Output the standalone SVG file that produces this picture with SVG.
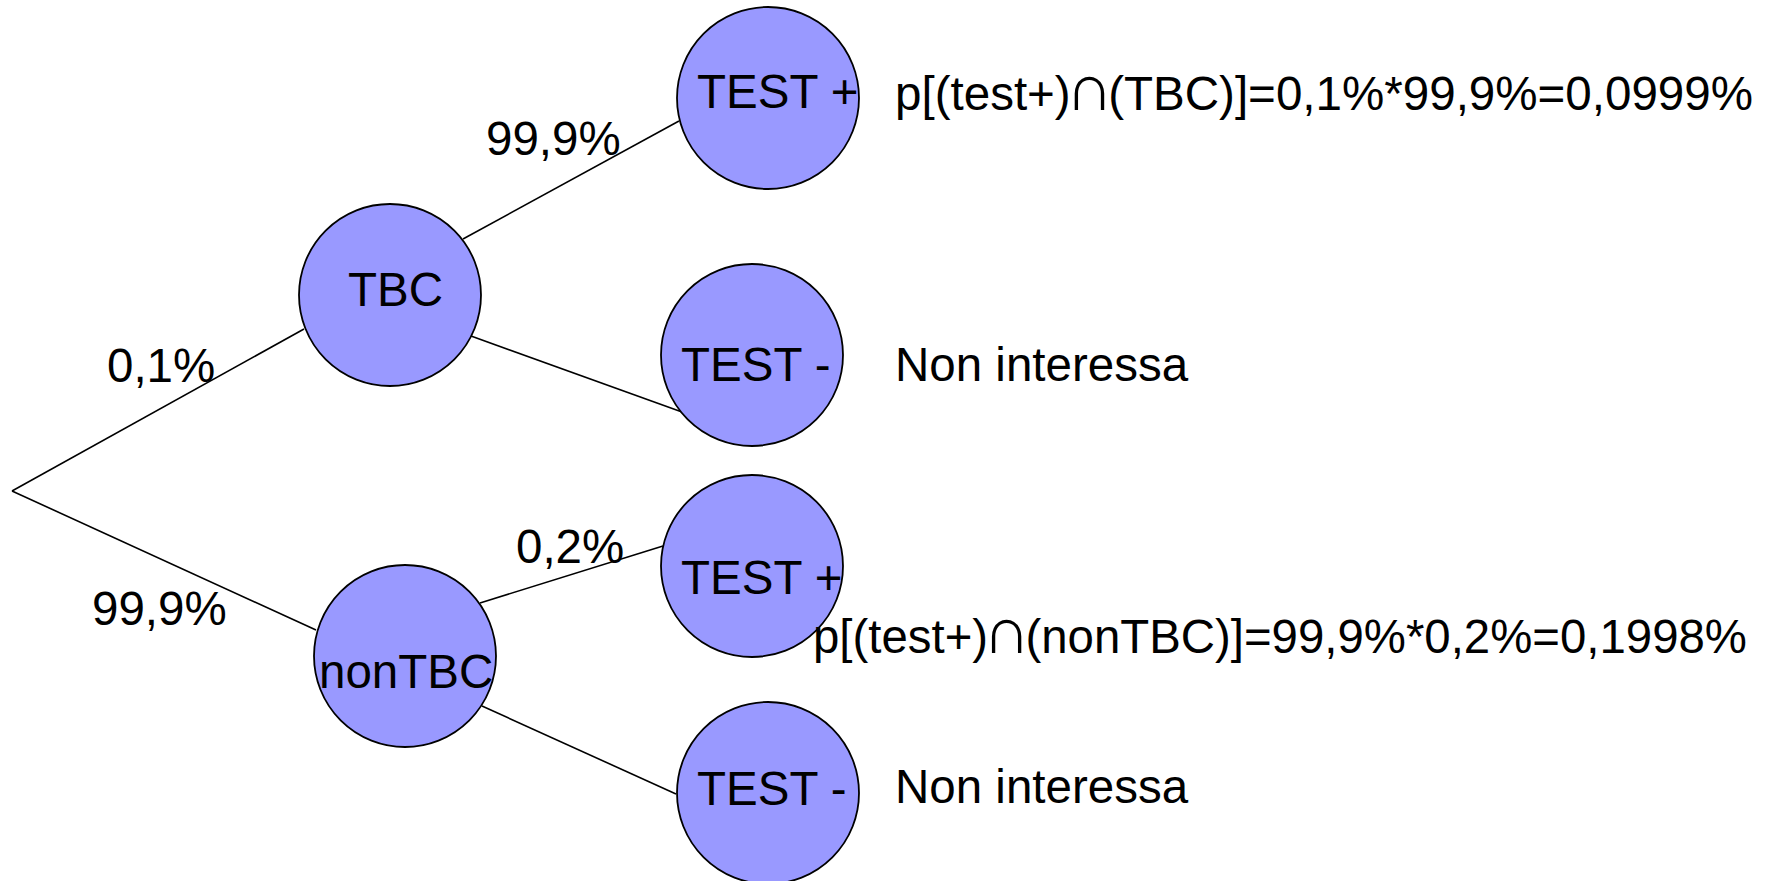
<svg xmlns="http://www.w3.org/2000/svg" width="1765" height="881" viewBox="0 0 1765 881">
  <style>
    .edge { stroke: #000; stroke-width: 1.6; fill: none; }
    .node { fill: #9999FF; stroke: #000; stroke-width: 1.8; }
    text { font-family: "Liberation Sans", Arial, sans-serif; font-size: 47.5px; fill: #000; }
    .cap { font-size: 66px; }
  </style>
  <rect width="1765" height="881" fill="#fff"/>

  <!-- branches of the probability tree -->
  <g id="connectors">
    <line class="edge" x1="12" y1="491" x2="304" y2="329"/>
    <line class="edge" x1="12" y1="491" x2="316" y2="630"/>
    <line class="edge" x1="463" y1="239" x2="679" y2="121"/>
    <line class="edge" x1="471" y1="336" x2="682" y2="412"/>
    <line class="edge" x1="480" y1="603" x2="663" y2="546"/>
    <line class="edge" x1="482" y1="706" x2="676" y2="794"/>
  </g>

  <!-- branch probabilities -->
  <g id="edge-labels">
    <text x="107" y="382">0,1%</text>
    <text x="92" y="625">99,9%</text>
    <text x="486" y="155">99,9%</text>
    <text x="516" y="563">0,2%</text>
  </g>

  <g id="node-tbc">
    <circle class="node" cx="390" cy="295" r="91"/>
    <text x="348" y="306">TBC</text>
  </g>

  <g id="node-nontbc">
    <circle class="node" cx="405" cy="656" r="91"/>
    <text x="319" y="688">nonTBC</text>
  </g>

  <g id="node-tbc-test-pos">
    <circle class="node" cx="768" cy="98" r="91"/>
    <text x="697" y="108">TEST +</text>
  </g>

  <g id="node-tbc-test-neg">
    <circle class="node" cx="752" cy="355" r="91"/>
    <text x="681" y="381">TEST -</text>
  </g>

  <g id="node-nontbc-test-pos">
    <circle class="node" cx="752" cy="566" r="91"/>
    <text x="681" y="594">TEST +</text>
  </g>

  <g id="node-nontbc-test-neg">
    <circle class="node" cx="768" cy="793" r="91"/>
    <text x="697" y="805">TEST -</text>
  </g>

  <!-- outcome notes -->
  <g id="outcomes">
    <text x="895" y="110" textLength="858" lengthAdjust="spacingAndGlyphs">p[(test+)<tspan class="cap" dx="-5">∩</tspan><tspan dx="-5">(TBC)]=0,1%*99,9%=0,0999%</tspan></text>
    <text x="895" y="381">Non interessa</text>
    <text x="813" y="653" textLength="934" lengthAdjust="spacingAndGlyphs">p[(test+)<tspan class="cap" dx="-5">∩</tspan><tspan dx="-5">(nonTBC)]=99,9%*0,2%=0,1998%</tspan></text>
    <text x="895" y="803">Non interessa</text>
  </g>
</svg>
